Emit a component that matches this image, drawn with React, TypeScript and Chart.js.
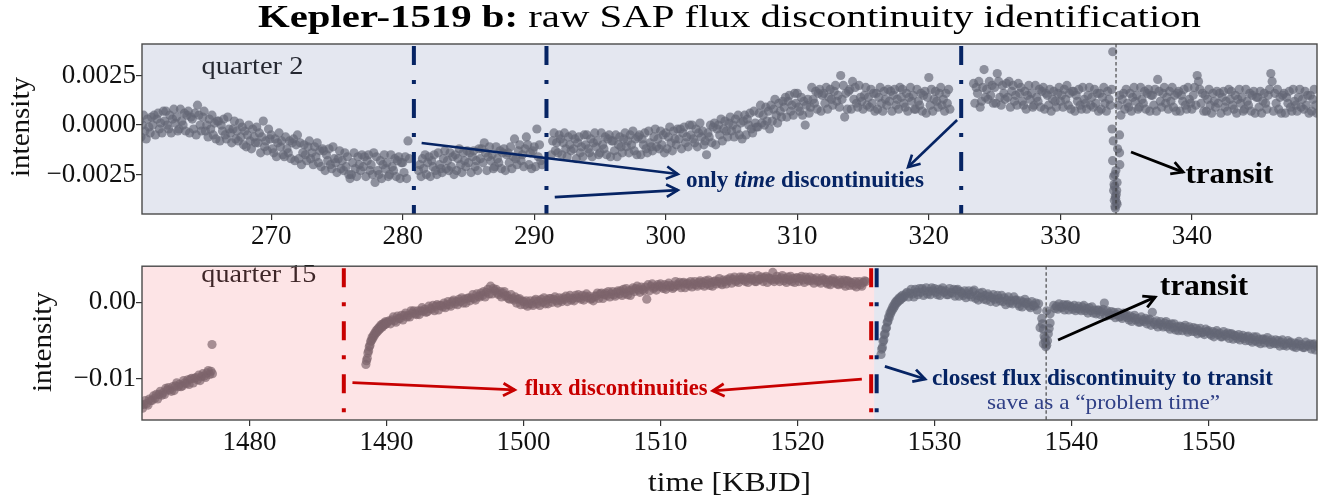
import React, { useEffect, useRef } from "react";
import { Chart, registerables } from "chart.js";

Chart.register(...registerables);

// ================= DATA =================
// flux values are typed in units of 1e-4 (relative intensity); one row ≈ one day of cadences
const FLUX_UNIT = 1e-4;

// ---- Quarter 2 (upper panel) ----
const q2SegmentStart = [260.0, 281.2, 291.3, 323.4, 334.4];
const q2SegmentStep = [0.1, 0.1, 0.1, 0.1, 0.1];
const q2FluxA = [
  2, -6, 0, 5, -3, -7, 3, -1, -4, 4,
  0, 5, -5, 3, 6, -2, 1, -4, 7, 2,
  7, 0, -2, 5, -4, 3, 8, 1, 4, -3,
  -2, 8, 2, 0, 6, -3, 5, 7, -4, 4,
  3, -2, 6, -5, 10, 5, 0, -3, 4, 7,
  -3, 0, -6, 3, -2, 5, -5, 1, -7, 2,
  2, -8, 0, -3, 3, -5, -7, 4, -2, -4,
  -9, -2, 2, -7, -3, -8, 1, -6, -1, -10,
  -3, -11, -5, 0, -8, -12, -2, -6, -9, -1,
  -9, -4, -14, -6, 2, -11, -8, -13, -2, -7,
  -5, -12, -14, -7, -16, -9, -4, -11, -8, -15,
  -16, -6, -12, -14, -8, -17, -9, -7, -18, -10,
  -5, -17, -9, -20, -14, -10, -15, -18, -11, -8,
  -17, -14, -20, -11, -16, -9, -19, -13, -21, -12,
  -13, -23, -15, -18, -12, -20, -22, -11, -17, -19,
  -24, -17, -13, -22, -18, -23, -14, -21, -16, -25,
  -27, -25, -19, -14, -22, -26, -16, -20, -23, -15,
  -21, -16, -26, -18, -15, -23, -20, -25, -14, -29,
  -16, -23, -25, -18, -27, -20, -15, -22, -19, -26,
  -25, -15, -21, -23, -17, -26, -18, -16, -27, -19,
  -19, -24, -16, -27, -8, -17,
];
const q2FluxB = [
  -23, -20, -26, -17, -22, -15, -25, -19,
  -16, -26, -18, -21, -15, -23, -25, -14, -20, -22,
  -24, -17, -13, -22, -18, -23, -14, -21, -16, -25,
  -15, -23, -17, -12, -20, -24, -14, -18, -21, -13,
  -19, -14, -24, -16, -13, -21, -18, -23, -12, -17,
  -12, -19, -9, -14, -23, -16, -11, -18, -15, -22,
  -21, -11, -17, -19, -13, -22, -14, -12, -23, -15,
  -14, -19, -11, -22, -16, -7, -17, -20, -13, -10,
  -18, -15, -21, -12, -6, -10, -20, -14, -22, -13,
  -11, -21, -2, -16, -10, -18, -20,
];
const q2FluxC = [
  -15, -8, -4, -13, -9, -14, -5,
  -7, -15, -9, -4, -12, -16, -6, -10, -13, -5,
  -12, -7, -17, -9, -6, -14, -11, -16, -5, -10,
  -5, -12, -14, -7, -16, -9, -4, -11, -8, -15,
  -14, -4, -10, -12, -6, -15, -7, -5, -16, -8,
  -8, -13, -5, -16, -10, -6, -11, -14, -7, -4,
  -11, -8, -14, -5, -10, -3, -13, -7, -15, -6,
  -5, -15, -7, -10, -4, -12, -14, -3, -9, -11,
  -13, -6, -2, -11, -7, -12, -3, -10, -5, -14,
  -4, -12, -6, -1, -9, -13, -3, -7, -10, -2,
  -7, -2, -12, -4, -1, -9, -6, -11, 0, -5,
  0, -7, -9, -2, -11, -4, 1, -6, -3, -10,
  -8, -15, -4, -6, 0, -9, -1, 1, -10, -2,
  0, -5, 3, -8, -2, 2, -3, -6, 1, 4,
  -3, 0, -6, 3, -2, 5, -5, 1, -7, 2,
  5, -5, 3, 0, 6, -2, -4, 7, 1, -1,
  -1, 6, 10, 1, 5, 0, 9, 2, 7, -2,
  10, 2, 8, 13, 5, 1, 11, 7, 4, 12,
  9, 14, 4, 12, 15, 7, 10, 5, 16, 11,
  16, 9, 7, 14, 5, 12, 0, 10, 13, 6,
  9, 19, 13, 11, 17, 8, 16, 18, 7, 15,
  16, 11, 19, 8, 14, 18, 13, 10, 17, 20,
  12, 15, 9, 25, 13, 20, 4, 16, 8, 17,
  18, 8, 22, 13, 19, 11, 9, 20, 14, 12,
  8, 15, 19, 10, 14, 9, 18, 11, 16, 7,
  16, 8, 14, 19, 11, 7, 17, 13, 10, 18,
  12, 17, 7, 15, 18, 10, 13, 8, 19, 14,
  18, 11, 9, 16, 7, 14, 19, 12, 15, 8,
  8, 18, 12, 10, 16, 7, 15, 17, 6, 14,
  24, 10, 18, 7, 13, 17, 12, 9, 16, 19,
  10, 13, 7, 16, 11, 18, 8,
];
const q2FluxD = [
  21, 11, 19, 16, 22, 9,
  12, 19, 28, 14, 18, 13, 22, 15, 20, 11,
  19, 11, 26, 22, 14, 10, 20, 16, 13, 21,
  14, 22, 9, 17, 20, 12, 15, 10, 21, 16,
  19, 12, 10, 17, 8, 15, 20, 13, 16, 9,
  10, 20, 14, 12, 18, 9, 17, 19, 8, 16,
  15, 10, 18, 7, 13, 17, 12, 9, 16, 19,
  12, 15, 9, 18, 13, 20, 10, 16, 8, 17,
  17, 7, 15, 12, 18, 10, 8, 19, 13, 11,
  8, 15, 19, 10, 14, 9, 18, 11, 16, 7,
  16, 8, 14, 19, 11, 7, 17, 13, 10, 18,
];
const q2FluxE = [
  10, 15, 5, 13, 16, 8,
  18, 11, 9, 16, 7, 14, 19, 12, 15, 8,
  9, 19, 13, 11, 17, 8, 16, 18, 7, 15,
  15, 10, 18, 7, 23, 17, 12, 9, 16, 19,
  11, 14, 8, 17, 12, 19, 9, 15, 7, 16,
  17, 7, 15, 12, 18, 10, 8, 19, 13, 11,
  8, 15, 19, 10, 25, 22, 18, 11, 16, 7,
  15, 7, 13, 18, 10, 6, 16, 12, 9, 17,
  11, 16, 6, 14, 17, 9, 12, 7, 18, 13,
  17, 10, 8, 15, 6, 13, 18, 11, 14, 7,
  8, 18, 12, 10, 16, 7, 15, 17, 6, 14,
  14, 9, 17, 6, 12, 16, 11, 8, 15, 18,
  26, 22, 7, 16, 11, 18, 8, 14, 6, 15,
  16, 6, 14, 11, 17, 9, 7, 18, 12, 10,
  7, 14, 18, 9, 13, 8, 17, 10, 15, 6,
  15, 7, 13, 18, 10, 6,
];
const q2TransitTime = [333.98, 333.93, 333.97, 334.5, 334.5, 334.52, 334.05, 334.31, 334.05, 334.18, 334.31, 334.18, 334.12, 334.25, 334.1, 334.22, 334.15, 334.28, 334.08, 334.2, 334.14, 334.27, 334.35, 334.02];
const q2TransitFlux = [37, -2, -18, -5, -14, -20, -26, -29, -33, -36, -40, -42, -31, -35, -38, -23, -41, -33, -30, -37, -25, -39, -12, -8];
const q2TimeDiscontinuities = [280.85, 290.93, 322.46];
const q2TransitMid = 334.23;
const q2XTicks = [270, 280, 290, 300, 310, 320, 330, 340];
const q2YTicks = [-0.0025, 0, 0.0025];
const q2XRange = [260.18, 349.51];
const q2YRange = [-0.00449, 0.00409];

// ---- Quarter 15 (lower panel) ----
const q15SegmentStart = [1472.1, 1488.5, 1490.2, 1526.1, 1527.8, 1538.7];
const q15SegmentStep = [0.1, 0.05, 0.1, 0.05, 0.1, 0.1];
const q15FluxA = [
  -134, -138, -133, -128, -132, -134, -126, -128, -128, -122,
  -125, -120, -126, -120, -116, -121, -118, -120, -112, -114,
  -111, -114, -116, -110, -115, -109, -105, -110, -107, -110,
  -109, -102, -105, -106, -101, -107, -100, -99, -105, -99,
  -98, -101, -95, -102, -97, -93, -96, -98, -92, -89,
  -94, -90, -93,
];
const q15FluxRamp1 = [
  -81, -76, -73, -66, -63, -58, -56, -51, -50, -46, -47, -43, -44, -40, -41, -37, -39, -35, -37, -33,
  -35, -31, -33, -29, -32, -28, -30, -27, -29, -25, -28, -26,
];
const q15FluxB = [
  -24, -28, -23, -19, -24, -26, -18, -21,
  -21, -17, -23, -17, -14, -19, -17, -19, -11, -14,
  -11, -15, -16, -11, -16, -11, -7, -12, -9, -13,
  -12, -5, -8, -9, -4, -11, -5, -3, -10, -4,
  -4, -6, -1, -7, -3, 1, -3, -5, 1, 3,
  -2, 1, -3, 4, 1, 6, -1, 4, -1, 5,
  6, 2, 6, 10, 5, 3, 11, 8, 7, 12,
  9, 14, 7, 13, 17, 11, 21, 11, 18, 15,
  17, 12, 10, 14, 7, 12, 14, 8, 9, 5,
  4, 10, 5, 3, 7, -1, 4, 5, -3, 2,
  1, -3, 2, -5, -2, 2, -2, -4, 2, 4,
  -2, 2, -4, 4, 0, 6, -2, 3, -2, 5,
  5, 0, 4, 7, 2, -1, 6, 3, 1, 6,
  4, 8, 1, 6, 9, 3, 5, 2, 9, 6,
  10, 6, 4, 9, 3, 8, 11, 6, 8, 4,
  5, 2, 8, 8, 12, 5, 11, 12, 5, 10,
  12, 9, 14, 7, 11, 14, 10, 8, 13, 15,
  11, 15, 9, 17, 12, 18, 10, 15, 9, 16,
  19, 14, 18, 21, 16, 13, 20, 17, 15, 20,
  4, 23, 15, 21, 24, 18, 20, 16, 23, 21,
  24, 20, 18, 23, 17, 22, 25, 20, 22, 18,
  20, 27, 23, 22, 26, 19, 25, 26, 19, 24,
  25, 22, 27, 20, 24, 27, 23, 21, 26, 28,
  23, 26, 21, 28, 24, 29, 22, 26, 21, 27,
  28, 24, 27, 31, 25, 23, 29, 27, 24, 30,
  28, 32, 25, 30, 33, 27, 29, 26, 33, 30,
  33, 29, 27, 32, 26, 31, 34, 29, 31, 27,
  27, 35, 30, 30, 33, 27, 32, 34, 26, 32,
  31, 29, 39, 27, 30, 34, 30, 27, 32, 35,
  28, 31, 26, 33, 29, 34, 27, 31, 26, 32,
  32, 27, 31, 34, 29, 26, 33, 30, 28, 33,
  28, 31, 25, 29, 32, 27, 28, 25, 32, 29,
  30, 26, 24, 29, 23, 28, 31, 26, 28, 24,
  23, 29, 26, 24, 29, 21, 28, 28, 22, 26,
  25, 22, 27, 20, 24, 27, 23, 21, 26, 28,
  27,
];
const q15FluxRamp2 = [
  -68, -61, -59, -51, -49, -42, -41, -34, -33, -26, -25, -19, -20, -14, -15, -10, -11, -6, -8, -3,
  -5, 0, -2, 2, 0, 4, 2, 6, 3, 7, 5, 9, 6,
];
const q15FluxC1 = [
  8, 11,
  13, 7, 12, 17, 11, 7, 17, 13, 10, 18,
  13, 18, 9, 15, 19, 11, 14, 10, 19, 15,
  18, 13, 10, 17, 9, 16, 19, 13, 15, 10,
  10, 18, 13, 12, 17, 8, 16, 17, 8, 14,
  12, 9, 15, 6, 11, 15, 10, 7, 14, 16,
  5, 9, 3, 12, 7, 13, 4, 9, 3, 11,
  8, 1, 6, 10, 4, 0, 9, 5, 2, 9,
  1, 6, -3, 3, 7, -1, 2, -2, 7, 3,
  3, -2, -5, 2, -6, 0, 4, -2, 0, -5,
  -7, 1, -4, -5, -1, -10, -2,
];
const q15FluxC2 = [
  -4, -8, -5,
  -9, -2, -6, -7, -3, -10, -4, -3, -10, -5,
  -6, -9, -4, -11, -8, -5, -9, -11, -6, -4,
  -11, -8, -14, -7, -11, -6, -14, -10, -15, -10,
  -10, -16, -12, -9, -1, -18, -11, -15, -17, -12,
  -17, -13, -20, -16, -13, -19, -18, -21, -14, -18,
  -16, -20, -23, -18, -25, -20, -17, -23, -21, -26,
  -26, -19, -23, -25, -21, -28, -23, -22, -30, -13,
  -26, -29, -24, -32, -28, -25, -30, -32, -27, -25,
  -32, -29, -35, -28, -33, -28, -36, -32, -37, -31,
  -32, -37, -33, -30, -36, -39, -32, -35, -38, -33,
  -38, -34, -41, -37, -34, -40, -39, -42, -35, -38,
  -37, -41, -43, -38, -45, -40, -37, -42, -40, -45,
  -45, -38, -42, -44, -40, -47, -41, -41, -48, -43,
  -44, -47, -42, -49, -46, -43, -47, -50, -45, -44,
  -50, -47, -52, -45, -50, -45, -52, -48, -54, -48,
  -48, -53, -49, -46, -52, -55, -49, -52, -54, -49,
  -54, -50, -57, -52, -49, -56, -54, -57, -50, -53,
  -52, -56, -58, -53, -59, -54, -51, -57, -55, -59,
  -59, -52, -56, -57, -54, -61, -55, -54, -62, -57,
];
const q15ExtraTime = [1477.27, 1537.71, 1537.83, 1537.95, 1537.95, 1538.07, 1538.19, 1538.19, 1538.31, 1538.44, 1538.44, 1538.0, 1538.13, 1538.25, 1538.1, 1537.88, 1538.37];
const q15ExtraFlux = [-55, -33, -21, -35, -54, -47, -56, -11, -41, -27, -15, -44, -58, -50, -52, -28, -34];
const q15FluxDiscontinuities = [1486.89, 1525.38];
const q15ClosestDiscontinuity = 1525.78;
const q15ProblemSpanEnd = 1525.6;
const q15TransitMid = 1538.15;
const q15XTicks = [1480, 1490, 1500, 1510, 1520, 1530, 1540, 1550];
const q15YTicks = [-0.01, 0];
const q15XRange = [1472.16, 1557.92];
const q15YRange = [-0.01534, 0.00471];

// ================= STYLE =================
const SERIF = '"Liberation Serif", "Times New Roman", Times, serif';
const NAVY = "rgb(6,36,100)";
const RED = "rgb(200,0,0)";
const OVERLAY_BLUE = "rgba(147,159,195,0.25)";
const OVERLAY_PINK = "rgba(247,147,155,0.25)";
const POINT_COLOR = "rgba(84,84,92,0.68)";
const POINT_RADIUS = 4.6;
const FRAME_COLOR = "#4a4a4a";
const TICK_COLOR = "#111";
const DASH_DOT = [19, 15, 4, 15];

type Run = { text: string; font: string; color: string };

function buildPoints(starts: number[], steps: number[], segs: number[][], extraT: number[], extraF: number[]) {
  const pts: { x: number; y: number }[] = [];
  segs.forEach((seg, k) => seg.forEach((f, i) => pts.push({ x: starts[k] + i * steps[k], y: f * FLUX_UNIT })));
  extraT.forEach((t, i) => pts.push({ x: t, y: extraF[i] * FLUX_UNIT }));
  return pts;
}

function drawRuns(ctx: CanvasRenderingContext2D, runs: Run[], x: number, y: number, targetWidth: number, align: "left" | "center" = "left", rotation = 0) {
  const widths = runs.map((r) => { ctx.font = r.font; return ctx.measureText(r.text).width; });
  const total = widths.reduce((s, w) => s + w, 0);
  const sx = targetWidth > 0 ? targetWidth / total : 1;
  ctx.save();
  ctx.translate(x, y);
  if (rotation) ctx.rotate(rotation);
  ctx.scale(sx, 1);
  ctx.textAlign = "left";
  ctx.textBaseline = "alphabetic";
  let cx = align === "center" ? -total / 2 : 0;
  runs.forEach((r, i) => { ctx.font = r.font; ctx.fillStyle = r.color; ctx.fillText(r.text, cx, 0); cx += widths[i]; });
  ctx.restore();
}

function vline(ctx: CanvasRenderingContext2D, px: number, a: any, color: string, width: number, dash: number[], offsetTop = 0) {
  ctx.save();
  ctx.beginPath();
  ctx.rect(a.left, a.top, a.right - a.left, a.bottom - a.top);
  ctx.clip();
  ctx.strokeStyle = color;
  ctx.lineWidth = width;
  ctx.setLineDash(dash);
  ctx.lineCap = "butt";
  ctx.beginPath();
  ctx.moveTo(px, a.top + offsetTop);
  ctx.lineTo(px, a.bottom);
  ctx.stroke();
  ctx.restore();
}

function arrow(ctx: CanvasRenderingContext2D, x1: number, y1: number, x2: number, y2: number, color: string, lw = 2.6) {
  const head = 13, spread = 0.5;
  ctx.save();
  ctx.strokeStyle = color;
  ctx.lineWidth = lw;
  ctx.lineJoin = "miter";
  ctx.beginPath();
  ctx.moveTo(x1, y1);
  ctx.lineTo(x2, y2);
  ctx.stroke();
  const ang = Math.atan2(y2 - y1, x2 - x1);
  ctx.beginPath();
  ctx.moveTo(x2 - head * Math.cos(ang - spread), y2 - head * Math.sin(ang - spread));
  ctx.lineTo(x2, y2);
  ctx.lineTo(x2 - head * Math.cos(ang + spread), y2 - head * Math.sin(ang + spread));
  ctx.stroke();
  ctx.restore();
}

function frame(ctx: CanvasRenderingContext2D, a: any) {
  ctx.save();
  ctx.strokeStyle = FRAME_COLOR;
  ctx.lineWidth = 1.4;
  ctx.strokeRect(a.left, a.top, a.right - a.left, a.bottom - a.top);
  ctx.restore();
}

function fmtFixed(v: number, d: number) {
  const s = Math.abs(v).toFixed(d);
  return v < -1e-12 ? "\u2212" + s : s;
}

function scales(xRange: number[], yRange: number[], xTicks: number[], yTicks: number[], yDigits: number, xAxisHeight: number) {
  const grid = { display: true, drawOnChartArea: false, drawTicks: true, tickLength: 6, color: "#333", lineWidth: 1.2 };
  const font = { family: SERIF, size: 27 };
  return {
    x: {
      type: "linear",
      min: xRange[0],
      max: xRange[1],
      afterBuildTicks: (s: any) => { s.ticks = xTicks.map((v) => ({ value: v })); },
      afterFit: (s: any) => { s.height = xAxisHeight; },
      ticks: { font, color: TICK_COLOR, padding: 1, maxRotation: 0, autoSkip: false, callback: (v: any) => String(v) },
      grid,
      border: { display: false },
    },
    y: {
      type: "linear",
      min: yRange[0],
      max: yRange[1],
      afterBuildTicks: (s: any) => { s.ticks = yTicks.map((v) => ({ value: v })); },
      afterFit: (s: any) => { s.width = 142; },
      ticks: { font, color: TICK_COLOR, padding: 0, autoSkip: false, callback: (v: any) => fmtFixed(Number(v), yDigits) },
      grid,
      border: { display: false },
    },
  };
}

const topPlugin = {
  id: "q2Decor",
  afterDatasetsDraw(chart: any) {
    const { ctx, chartArea: a, scales: sc } = chart;
    const X = (v: number) => sc.x.getPixelForValue(v);
    const Y = (v: number) => sc.y.getPixelForValue(v);
    drawRuns(ctx, [{ text: "quarter 2", font: `25px ${SERIF}`, color: "#000" }], X(264.7), Y(0.002576), 102);
    ctx.save();
    ctx.fillStyle = OVERLAY_BLUE;
    ctx.fillRect(a.left, a.top, a.right - a.left, a.bottom - a.top);
    ctx.restore();
    q2TimeDiscontinuities.forEach((t) => vline(ctx, X(t), a, NAVY, 4, DASH_DOT, 2));
    arrow(ctx, X(281.44), Y(-0.000909), X(300.92), Y(-0.002475), NAVY);
    arrow(ctx, X(291.56), Y(-0.003636), X(300.92), Y(-0.003283), NAVY);
    arrow(ctx, X(322.15), Y(0.000253), X(318.42), Y(-0.002121), NAVY);
    arrow(ctx, X(335.37), Y(-0.001364), X(339.33), Y(-0.002374), "#000", 2.8);
    drawRuns(ctx, [
      { text: "only ", font: `bold 23px ${SERIF}`, color: NAVY },
      { text: "time", font: `italic bold 23px ${SERIF}`, color: NAVY },
      { text: " discontinuities", font: `bold 23px ${SERIF}`, color: NAVY },
    ], X(301.53), Y(-0.003116), 238);
    drawRuns(ctx, [{ text: "transit", font: `bold 29px ${SERIF}`, color: "#000" }], X(339.51), Y(-0.002946), 88);
    vline(ctx, X(q2TransitMid), a, "#3a3a3a", 1.1, [3.5, 2.5]);
    frame(ctx, a);
  },
  afterDraw(chart: any) {
    const { ctx, chartArea: a } = chart;
    drawRuns(ctx, [
      { text: "Kepler-1519 b:", font: `bold 31px ${SERIF}`, color: "#000" },
      { text: " raw SAP flux discontinuity identification", font: `31px ${SERIF}`, color: "#000" },
    ], (a.left + a.right) / 2, 27, 943, "center");
    drawRuns(ctx, [{ text: "intensity", font: `27px ${SERIF}`, color: TICK_COLOR }], 29, (a.top + a.bottom) / 2 - 2, 100, "center", -Math.PI / 2);
  },
};

const bottomPlugin = {
  id: "q15Decor",
  afterDatasetsDraw(chart: any) {
    const { ctx, chartArea: a, scales: sc } = chart;
    const X = (v: number) => sc.x.getPixelForValue(v);
    const Y = (v: number) => sc.y.getPixelForValue(v);
    const h = a.bottom - a.top;
    drawRuns(ctx, [{ text: "quarter 15", font: `25px ${SERIF}`, color: "#000" }], X(1476.49), Y(0.002693), 115);
    const split = X(q15ProblemSpanEnd);
    ctx.save();
    ctx.fillStyle = OVERLAY_PINK;
    ctx.fillRect(a.left, a.top, split - a.left, h);
    ctx.fillStyle = OVERLAY_BLUE;
    ctx.fillRect(split, a.top, a.right - split, h);
    ctx.restore();
    q15FluxDiscontinuities.forEach((t) => vline(ctx, X(t), a, RED, 4, DASH_DOT, 2));
    vline(ctx, X(q15ClosestDiscontinuity), a, NAVY, 4, DASH_DOT, 2);
    arrow(ctx, X(1487.52), Y(-0.010474), X(1499.36), Y(-0.011423), RED, 2.8);
    arrow(ctx, X(1524.7), Y(-0.01), X(1513.82), Y(-0.011542), RED, 2.8);
    arrow(ctx, X(1526.38), Y(-0.00834), X(1529.31), Y(-0.01), NAVY, 2.8);
    arrow(ctx, X(1539.02), Y(-0.0049), X(1546.11), Y(0.000676), "#000", 2.8);
    drawRuns(ctx, [{ text: "flux discontinuities", font: `bold 23px ${SERIF}`, color: RED }], X(1500.09), Y(-0.012135), 183);
    drawRuns(ctx, [{ text: "closest flux discontinuity to transit", font: `bold 23px ${SERIF}`, color: NAVY }], X(1529.82), Y(-0.01083), 341);
    drawRuns(ctx, [{ text: "save as a \u201cproblem time\u201d", font: `22px ${SERIF}`, color: "rgb(48,64,135)" }], X(1533.84), Y(-0.01388), 233);
    drawRuns(ctx, [{ text: "transit", font: `bold 29px ${SERIF}`, color: "#000" }], X(1546.47), Y(0.000913), 88);
    vline(ctx, X(q15TransitMid), a, "#3a3a3a", 1.1, [3.5, 2.5]);
    frame(ctx, a);
  },
  afterDraw(chart: any) {
    const { ctx, chartArea: a } = chart;
    drawRuns(ctx, [{ text: "intensity", font: `27px ${SERIF}`, color: TICK_COLOR }], 51, (a.top + a.bottom) / 2 - 1, 100, "center", -Math.PI / 2);
    drawRuns(ctx, [{ text: "time [KBJD]", font: `27px ${SERIF}`, color: TICK_COLOR }], (a.left + a.right) / 2, 241, 163, "center");
  },
};

function makeConfig(points: any[], sc: any, padTop: number, plugin: any): any {
  return {
    type: "scatter",
    data: {
      datasets: [
        {
          data: points,
          backgroundColor: POINT_COLOR,
          pointRadius: POINT_RADIUS,
          pointHoverRadius: POINT_RADIUS,
          pointBorderWidth: 0,
          clip: 0,
        },
      ],
    },
    options: {
      responsive: false,
      animation: false,
      devicePixelRatio: 1,
      events: [],
      layout: { padding: { left: 0, right: 9, top: padTop, bottom: 0 } },
      plugins: { legend: { display: false }, tooltip: { enabled: false }, title: { display: false } },
      scales: sc,
    },
    plugins: [plugin],
  };
}

export default function App() {
  const topRef = useRef<HTMLCanvasElement>(null);
  const botRef = useRef<HTMLCanvasElement>(null);

  useEffect(() => {
    const q2Points = buildPoints(q2SegmentStart, q2SegmentStep, [q2FluxA, q2FluxB, q2FluxC, q2FluxD, q2FluxE], q2TransitTime, q2TransitFlux);
    const q15Points = buildPoints(q15SegmentStart, q15SegmentStep, [q15FluxA, q15FluxRamp1, q15FluxB, q15FluxRamp2, q15FluxC1, q15FluxC2], q15ExtraTime, q15ExtraFlux);
    const top = new Chart(topRef.current as HTMLCanvasElement, makeConfig(q2Points, scales(q2XRange, q2YRange, q2XTicks, q2YTicks, 4, 36), 44, topPlugin));
    const bottom = new Chart(botRef.current as HTMLCanvasElement, makeConfig(q15Points, scales(q15XRange, q15YRange, q15XTicks, q15YTicks, 2, 82), 1, bottomPlugin));
    return () => {
      top.destroy();
      bottom.destroy();
    };
  }, []);

  return (
    <div style={{ position: "fixed", left: 0, top: 0, width: 1326, height: 502, background: "#fff", overflow: "hidden" }}>
      <canvas ref={topRef} width={1326} height={250} style={{ position: "absolute", left: 0, top: 0, width: 1326, height: 250, display: "block" }} />
      <canvas ref={botRef} width={1326} height={252} style={{ position: "absolute", left: 0, top: 250, width: 1326, height: 252, display: "block" }} />
    </div>
  );
}
